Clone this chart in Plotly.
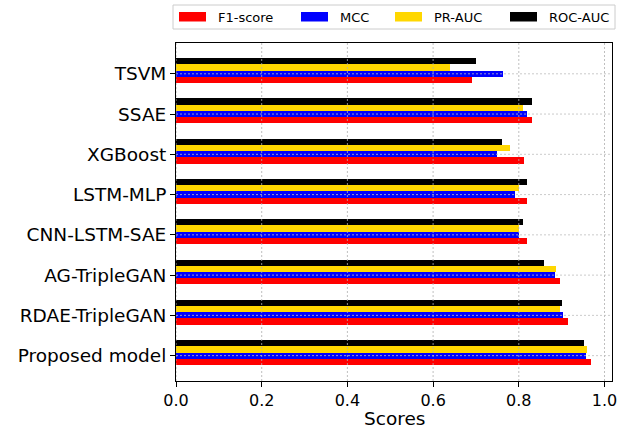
import numpy as np
import plotly.graph_objects as go

models = ["Proposed model", "RDAE-TripleGAN", "AG-TripleGAN", "CNN-LSTM-SAE",
          "LSTM-MLP", "XGBoost", "SSAE", "TSVM"]
f1_score = [0.969, 0.915, 0.897, 0.820, 0.820, 0.813, 0.831, 0.691]
mcc = [0.957, 0.904, 0.885, 0.800, 0.792, 0.750, 0.820, 0.764]
pr_auc = [0.960, 0.897, 0.887, 0.800, 0.800, 0.780, 0.810, 0.640]
roc_auc = [0.953, 0.901, 0.859, 0.810, 0.820, 0.761, 0.831, 0.700]
x_ticks = [0.0, 0.2, 0.4, 0.6, 0.8, 1.0]

series = [
    ("F1-score", f1_score, "#ff0000", -1),
    ("MCC", mcc, "#0000ff", 0),
    ("PR-AUC", pr_auc, "#ffd700", 1),
    ("ROC-AUC", roc_auc, "#000000", 2),
]

W, H = 632, 429
L, R, T, B = 176, 612, 43, 381  # plot area in pixels
bw = 0.155
idx = np.arange(len(models))
FONT = "DejaVu Sans"

fig = go.Figure()
for name, vals, col, off in series:
    fig.add_trace(go.Bar(
        x=vals, y=idx + off * bw, orientation="h", width=bw, name=name,
        marker=dict(color=col, line=dict(width=0)), showlegend=False,
    ))


def px(xp):
    return (xp - L) / (R - L)


def py(yp):
    return (B - yp) / (B - T)


shapes = []
# gridlines drawn above bars
for xv in x_ticks:
    shapes.append(dict(type="line", xref="x", yref="paper", x0=xv, x1=xv, y0=0, y1=1,
                       line=dict(color="rgba(175,175,175,0.8)", width=1, dash="2px,2px"),
                       layer="above"))
for yv in idx:
    shapes.append(dict(type="line", xref="paper", yref="y", x0=0, x1=1, y0=yv, y1=yv,
                       line=dict(color="rgba(190,190,190,0.8)", width=1, dash="2px,2px"),
                       layer="above"))

# custom legend
shapes.append(dict(type="rect", xref="paper", yref="paper",
                   x0=px(173), x1=px(615), y0=py(29), y1=py(5),
                   line=dict(color="#cccccc", width=1), fillcolor="white", layer="above"))
annotations = []
patch_x = [179, 301, 395, 510]
for (name, vals, col, off), x0 in zip(series, patch_x):
    shapes.append(dict(type="rect", xref="paper", yref="paper",
                       x0=px(x0), x1=px(x0 + 27), y0=py(21.5), y1=py(12),
                       line=dict(width=0), fillcolor=col, layer="above"))
    annotations.append(dict(xref="paper", yref="paper", x=px(x0 + 37), y=py(17),
                            text=name, showarrow=False, xanchor="left", yanchor="middle",
                            font=dict(family=FONT, size=13, color="black")))

# x-axis title placed explicitly
annotations.append(dict(xref="paper", yref="paper", x=px(394), y=py(431),
                        text="Scores", showarrow=False, xanchor="center", yanchor="bottom",
                        font=dict(family=FONT, size=18.5, color="black")))

fig.update_layout(
    width=W, height=H,
    margin=dict(l=L, r=W - R, t=T, b=H - B, pad=0, autoexpand=False),
    plot_bgcolor="white", paper_bgcolor="white",
    barmode="overlay", bargap=0,
    font=dict(family=FONT, color="black"),
    shapes=shapes, annotations=annotations,
    showlegend=False,
)
fig.update_xaxes(
    range=[0, 1.0175], tickvals=x_ticks, ticktext=[f"{v:.1f}" for v in x_ticks],
    showgrid=False, zeroline=False, showline=True, linecolor="black", linewidth=1,
    mirror=True, ticks="outside", ticklen=5, tickcolor="black", automargin=False,
    tickfont=dict(family=FONT, size=16),
)
fig.update_yaxes(
    range=[-0.63, 7.765], tickvals=idx, ticktext=models,
    showgrid=False, zeroline=False, showline=True, linecolor="black", linewidth=1,
    mirror=True, ticks="outside", ticklen=5, tickcolor="black", automargin=False,
    tickfont=dict(family=FONT, size=18.5),
)

fig.write_html("out.html")
